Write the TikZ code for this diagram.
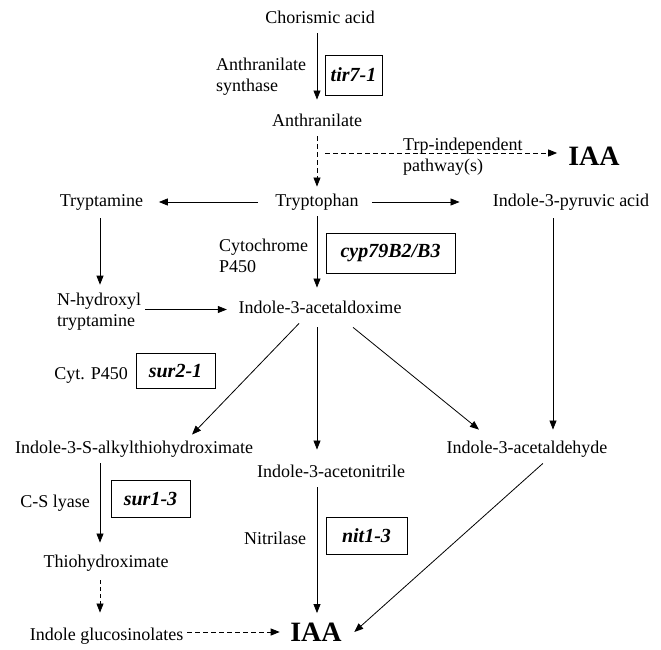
\documentclass[tikz,border=0pt]{standalone}
\usepackage{fontspec}
\setmainfont{Liberation Serif}
\usetikzlibrary{arrows.meta}
\begin{document}
\begin{tikzpicture}[
  x=1pt, y=-1pt,
  lbl/.style={inner sep=0pt, font=\fontsize{18pt}{21pt}\selectfont, text height=12.5pt, text depth=4pt},
  mlbl/.style={inner sep=0pt, font=\fontsize{18pt}{21pt}\selectfont, align=left},
  gene/.style={draw, line width=0.8pt, inner sep=0pt, font=\fontsize{20pt}{24pt}\selectfont\bfseries\itshape},
  big/.style={inner sep=0pt, font=\fontsize{28pt}{32pt}\selectfont\bfseries},
  arr/.style={line width=0.8pt, -{Triangle[length=9pt,width=7pt]}},
  darr/.style={arr, dash pattern=on 5pt off 3pt},
]
\useasboundingbox[fill=white] (0,0) rectangle (661,650);

% compounds
\node[lbl] (chor) at (320,19.5) {Chorismic acid};
\node[lbl] (anth) at (317,122.5) {Anthranilate};
\node[lbl] (trp) at (317,202) {Tryptophan};
\node[lbl] (tam) at (101.5,202) {Tryptamine};
\node[lbl] (pyr) at (571,202) {Indole-3-pyruvic acid};
\node[mlbl, anchor=west] (nhyd) at (57,311.8) {N-hydroxyl\\tryptamine};
\node[lbl] (aldox) at (320,309.5) {Indole-3-acetaldoxime};
\node[lbl] (sulf) at (134,449.5) {Indole-3-S-alkylthiohydroximate};
\node[lbl] (acn) at (331,473.5) {Indole-3-acetonitrile};
\node[lbl] (ald) at (527,449.5) {Indole-3-acetaldehyde};
\node[lbl] (thio) at (106,563.5) {Thiohydroximate};
\node[lbl] (gluc) at (106.5,636.5) {Indole glucosinolates};
\node[big] (iaa1) at (594,156) {IAA};
\node[big] (iaa2) at (316,632) {IAA};

% enzyme labels
\node[mlbl, anchor=west] (synth) at (216,76.8) {Anthranilate\\synthase};
\node[mlbl, anchor=west] (cytoc) at (219,255.9) {Cytochrome\\P450};
\node[mlbl, anchor=west] (trpind) at (403,156.8) {Trp-independent\\pathway(s)};
\node[lbl, anchor=east] (cytp) at (128,375) {Cyt. P450};
\node[lbl] (csly) at (55,503.5) {C-S lyase};
\node[lbl] (nitr) at (275,540.5) {Nitrilase};

% mutant boxes
\node[gene, minimum width=57pt, minimum height=40pt] (tir) at (353.5,75) {tir7-1};
\node[gene, minimum width=129pt, minimum height=40pt] (cyp) at (390.5,253) {cyp79B2/B3};
\node[gene, minimum width=79pt, minimum height=35pt] (sur2) at (175.5,370.5) {sur2-1};
\node[gene, minimum width=79pt, minimum height=37pt] (sur1) at (150.5,498.5) {sur1-3};
\node[gene, minimum width=81pt, minimum height=37pt] (nit) at (366.5,535.5) {nit1-3};

% connectors
\draw[arr, shorten <=5.5pt, shorten >=14.5pt] (anth.north |- chor.south) -- (anth.north);
\draw[darr, shorten <=5.5pt, shorten >=7pt] (anth.south) -- (trp.north);
\coordinate (branch) at (325,153);
\draw[darr, shorten >=11pt] (branch) -- (branch -| iaa1.west);
\draw[arr, shorten <=17pt, shorten >=15.5pt] (trp.west) -- (tam.east);
\draw[arr, shorten <=13pt, shorten >=33pt] (trp.east) -- (pyr.west);
\draw[arr, shorten <=6pt, shorten >=13.5pt] (trp.south) -- (trp.south |- aldox.north);
\draw[arr, shorten <=8pt, shorten >=8.2pt] ([xshift=-1.5pt]tam.south) -- ([xshift=-1.5pt]tam.south |- nhyd.north);
\draw[arr, shorten <=4pt, shorten >=11.5pt] (nhyd.east |- aldox.west) -- (aldox.west);
\draw[arr, shorten <=7.6pt, shorten >=9pt] ([xshift=-15.7pt]aldox.south) -- ([xshift=51.8pt]sulf.north);
\draw[arr, shorten <=9.5pt, shorten >=15.5pt] (trp.south |- aldox.south) -- (trp.south |- acn.north);
\draw[arr, shorten <=15pt, shorten >=18.2pt] ([xshift=21.4pt]aldox.south) -- ([xshift=-33.9pt]ald.north);
\draw[arr, shorten <=8pt, shorten >=11.5pt] ([xshift=-18pt]pyr.south) -- ([xshift=-18pt]pyr.south |- ald.north);
\draw[arr, shorten <=5.5pt, shorten >=12.5pt] ([xshift=-34pt]sulf.south) -- ([xshift=-34pt]sulf.south |- thio.north);
\draw[darr, dash pattern=on 4pt off 3pt, shorten <=8.5pt, shorten >=15.5pt] ([xshift=-6pt]thio.south) -- ([xshift=-6pt]thio.south |- gluc.north);
\draw[darr, shorten <=4pt, shorten >=10.4pt] (gluc.east |- iaa2.west) -- (iaa2.west);
\draw[arr, shorten <=5.5pt, shorten >=9.5pt] (trp.south |- acn.south) -- (trp.south |- iaa2.north);
\draw[arr, shorten <=8.2pt] ([xshift=22pt]ald.south) -- ([xshift=12.4pt]iaa2.east);
\end{tikzpicture}
\end{document}
